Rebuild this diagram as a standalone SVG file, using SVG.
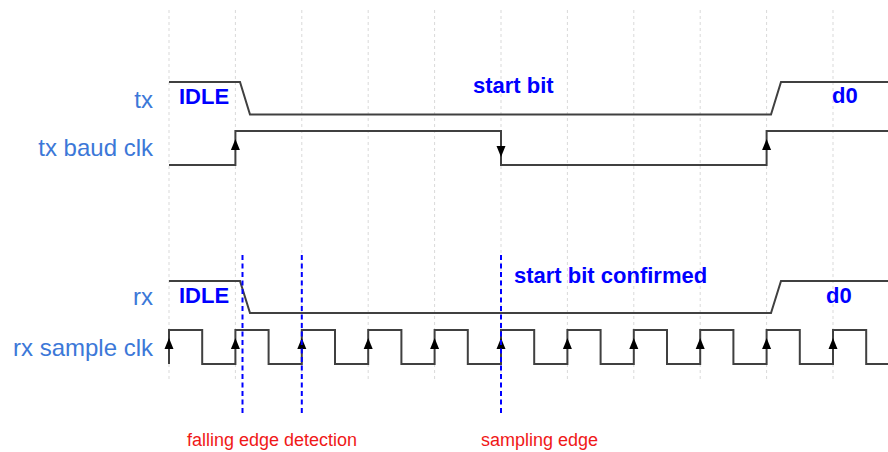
<svg xmlns="http://www.w3.org/2000/svg" xmlns:xlink="http://www.w3.org/1999/xlink" width="888" height="452" viewBox="0 0 888 452">
<style>
.grid{stroke:#d9d9d9;stroke-width:1;stroke-dasharray:3 3;fill:none}
.wave{stroke:#404040;stroke-width:2;fill:none;stroke-linejoin:miter}
.lbl{font-family:"Liberation Sans",Arial,sans-serif;font-size:24px;fill:#3c78d8;text-anchor:end}
.bold{font-family:"Liberation Sans",Arial,sans-serif;font-size:22px;font-weight:bold;fill:#0000ff}
.red{font-family:"Liberation Sans",Arial,sans-serif;font-size:18px;fill:#f01818}
.mark{stroke:#0000ff;stroke-width:2;stroke-dasharray:5 3.5;fill:none}
.ah{fill:#000}
</style>
<defs>
<path id="au" class="ah" d="M0,0 L-4.5,11 L4.5,11 Z"/>
<path id="ad" class="ah" d="M0,0 L-4.5,-11 L4.5,-11 Z"/>
</defs>
<rect width="888" height="452" fill="#fff"/>
<g id="grid">
<line class="grid" x1="169" y1="10" x2="169" y2="380"/>
<line class="grid" x1="235.4" y1="10" x2="235.4" y2="380"/>
<line class="grid" x1="301.8" y1="10" x2="301.8" y2="380"/>
<line class="grid" x1="368.2" y1="10" x2="368.2" y2="380"/>
<line class="grid" x1="434.6" y1="10" x2="434.6" y2="380"/>
<line class="grid" x1="501" y1="10" x2="501" y2="380"/>
<line class="grid" x1="567.4" y1="10" x2="567.4" y2="380"/>
<line class="grid" x1="633.8" y1="10" x2="633.8" y2="380"/>
<line class="grid" x1="700.2" y1="10" x2="700.2" y2="380"/>
<line class="grid" x1="766.6" y1="10" x2="766.6" y2="380"/>
<line class="grid" x1="833" y1="10" x2="833" y2="380"/>
</g>
<g id="labels">
<text class="lbl" x="153" y="108">tx</text>
<text class="lbl" x="153" y="156">tx baud clk</text>
<text class="lbl" x="153" y="305">rx</text>
<text class="lbl" x="153" y="356">rx sample clk</text>
</g>
<g id="tx">
<path class="wave" d="M169,82 H240 L250,114.5 H771 L781,82 H888"/>
<text class="bold" x="179" y="104">IDLE</text>
<text class="bold" x="473" y="93">start bit</text>
<text class="bold" x="832" y="103">d0</text>
</g>
<g id="tx-baud-clk">
<path class="wave" d="M169,165 H235.4 V131 H501 V165 H766.6 V131 H888"/>
<use href="#au" x="235.4" y="139"/>
<use href="#ad" x="501" y="157"/>
<use href="#au" x="766.6" y="139"/>
</g>
<g id="rx">
<path class="wave" d="M169,281 H240 L250,313 H771 L781,281 H888"/>
<text class="bold" x="179" y="303">IDLE</text>
<text class="bold" x="514" y="283">start bit confirmed</text>
<text class="bold" x="826" y="303">d0</text>
</g>
<g id="rx-sample-clk">
<path class="wave" d="M169,364 V330 H202.2 V364 H235.4 V330 H268.6 V364 H301.8 V330 H335 V364 H368.2 V330 H401.4 V364 H434.6 V330 H467.8 V364 H501 V330 H534.2 V364 H567.4 V330 H600.6 V364 H633.8 V330 H667 V364 H700.2 V330 H733.4 V364 H766.6 V330 H799.8 V364 H833 V330 H866.2 V364 H888"/>
<use href="#au" x="169" y="338"/>
<use href="#au" x="235.4" y="338"/>
<use href="#au" x="301.8" y="338"/>
<use href="#au" x="368.2" y="338"/>
<use href="#au" x="434.6" y="338"/>
<use href="#au" x="501" y="338"/>
<use href="#au" x="567.4" y="338"/>
<use href="#au" x="633.8" y="338"/>
<use href="#au" x="700.2" y="338"/>
<use href="#au" x="766.6" y="338"/>
<use href="#au" x="833" y="338"/>
</g>
<g id="markers">
<line class="mark" x1="242.5" y1="255" x2="242.5" y2="414"/>
<line class="mark" x1="301.8" y1="255" x2="301.8" y2="414"/>
<line class="mark" x1="501" y1="255" x2="501" y2="414"/>
<text class="red" x="187" y="446">falling edge detection</text>
<text class="red" x="481" y="446">sampling edge</text>
</g>
</svg>
